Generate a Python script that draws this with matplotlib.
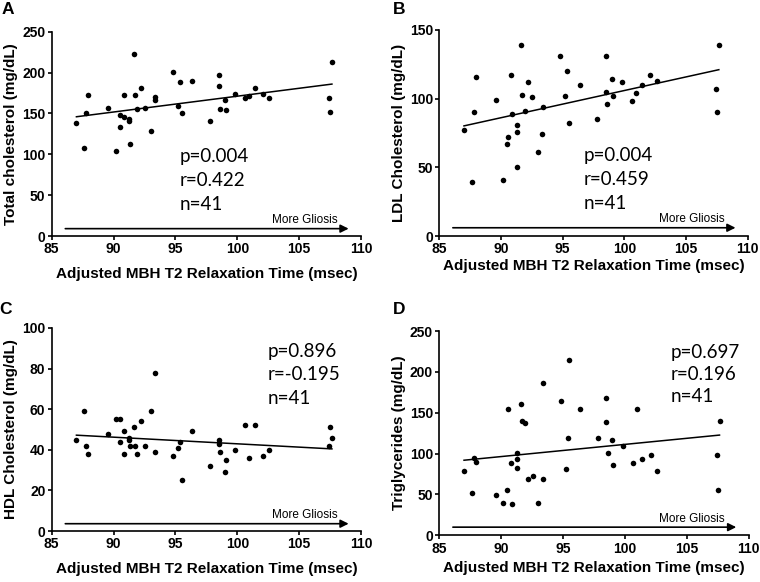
import numpy as np
import matplotlib.pyplot as plt

# T2 relaxation time per subject (msec)
t2 = [87.0, 87.65, 87.78, 87.95, 89.57, 90.16, 90.49, 90.54, 90.81, 90.86,
      91.27, 91.27, 91.3, 91.62, 91.7, 91.92, 92.19, 92.54, 93.0, 93.35,
      93.38, 94.81, 95.22, 95.38, 95.51, 96.38, 97.81, 98.49, 98.49, 98.6,
      98.97, 99.05, 99.84, 100.65, 100.95, 101.4, 102.1, 102.6, 107.43, 107.49,
      107.65]

total_chol = [138, 108, 151, 172, 157, 104, 133, 148, 173, 146,
              141, 143, 113, 223, 173, 156, 181, 157, 128, 166,
              170, 201, 159, 188, 150, 190, 141, 197, 184, 155,
              166, 154, 174, 169, 171, 181, 174, 169, 169, 152,
              213]
ldl = [77, 39, 90, 116, 99, 41, 67, 72, 117, 89,
       81, 76, 50, 139, 103, 91, 112, 101, 61, 74,
       94, 131, 102, 120, 82, 110, 85, 131, 105, 96,
       114, 102, 112, 98, 104, 110, 117, 113, 107, 90,
       139]
hdl = [45, 59, 42, 38, 48, 55, 55, 44, 38, 49,
       46, 45, 42, 51, 42, 38, 54, 42, 59, 78,
       39, 37, 41, 44, 25, 49, 32, 45, 43, 39,
       29, 35, 40, 52, 36, 52, 37, 40, 42, 51,
       46]
trig = [79, 52, 95, 90, 49, 39, 56, 154, 88, 38,
        101, 93, 83, 161, 140, 138, 69, 72, 39, 69,
        186, 164, 81, 119, 214, 155, 119, 168, 139, 101,
        117, 86, 109, 89, 155, 94, 98, 79, 98, 56,
        140]

stats = [("p=0.004", "r=0.422"), ("p=0.004", "r=0.459"),
         ("p=0.896", "r=-0.195"), ("p=0.697", "r=0.196")]
n_subj = 41

panels = [
    ("A", total_chol, "Total cholesterol (mg/dL)", 250, 50),
    ("B", ldl, "LDL Cholesterol (mg/dL)", 150, 50),
    ("C", hdl, "HDL Cholesterol (mg/dL)", 100, 20),
    ("D", trig, "Triglycerides (mg/dL)", 250, 50),
]

# axes rectangles in figure fraction
rects = [
    [0.068, 0.5945, 0.407, 0.351],
    [0.578, 0.5945, 0.406, 0.354],
    [0.068, 0.0876, 0.407, 0.349],
    [0.578, 0.0802, 0.407, 0.351],
]
text_pos = [(0.415, 0.43), (0.467, 0.43), (0.698, 0.925), (0.748, 0.935)]
text_spacing = [1.5, 1.5, 1.45, 1.35]
xlabel_pad = [8, 2, 8, 4]
arrow_y = [0.036, 0.04, 0.036, 0.04]
letter_pos = [(8, 10), (399, 10), (5, 310), (399, 310)]

plt.rcParams['font.family'] = ['Liberation Sans', 'DejaVu Sans']

fig = plt.figure(figsize=(7.6, 5.82), dpi=100)
x = np.array(t2)

for i, (letter, vals, ylab, ymax, ystep) in enumerate(panels):
    ax = fig.add_axes(rects[i])
    y = np.array(vals)
    ax.scatter(x, y, s=16, color='black', zorder=3, linewidths=0)
    k, b = np.polyfit(x, y, 1)
    xx = np.array([x.min(), x.max()])
    ax.plot(xx, k * xx + b, color='black', lw=1.1)

    ax.set_xlim(85, 110)
    ax.set_ylim(0, ymax)
    ax.set_xticks(np.arange(85, 111, 5))
    ax.set_yticks(np.arange(0, ymax + 1, ystep))
    for s in ['top', 'right']:
        ax.spines[s].set_visible(False)
    for s in ['left', 'bottom']:
        ax.spines[s].set_linewidth(1.2)
    ax.tick_params(direction='out', length=3, width=1.2, labelsize=10, pad=1.5)
    for lab in ax.get_xticklabels() + ax.get_yticklabels():
        lab.set_fontweight('bold')
    ax.set_xlabel("Adjusted MBH T2 Relaxation Time (msec)", fontsize=11,
                  fontweight='bold', labelpad=xlabel_pad[i])
    ax.set_ylabel(ylab, fontsize=11, fontweight='bold', labelpad=3)

    p, r = stats[i]
    ax.text(text_pos[i][0], text_pos[i][1], f"{p}\n{r}\nn={n_subj}",
            transform=ax.transAxes, ha='left', va='top', fontsize=13.5,
            family='Lato', linespacing=text_spacing[i])

    ya = arrow_y[i] * ymax
    ax.annotate("", xy=(109.0, ya), xytext=(86.1, ya),
                arrowprops=dict(arrowstyle='-|>', color='black', lw=1.2,
                                mutation_scale=12, shrinkA=0, shrinkB=0),
                annotation_clip=False)
    ax.text(108.1, ya + 0.012 * ymax, "More Gliosis", ha='right', va='bottom',
            fontsize=8.5)

    fig.text(letter_pos[i][0] / 760, 1 - letter_pos[i][1] / 582, letter,
             fontsize=12.5, fontweight='bold', ha='center', va='center')

fig.savefig("out.png", dpi=100)
